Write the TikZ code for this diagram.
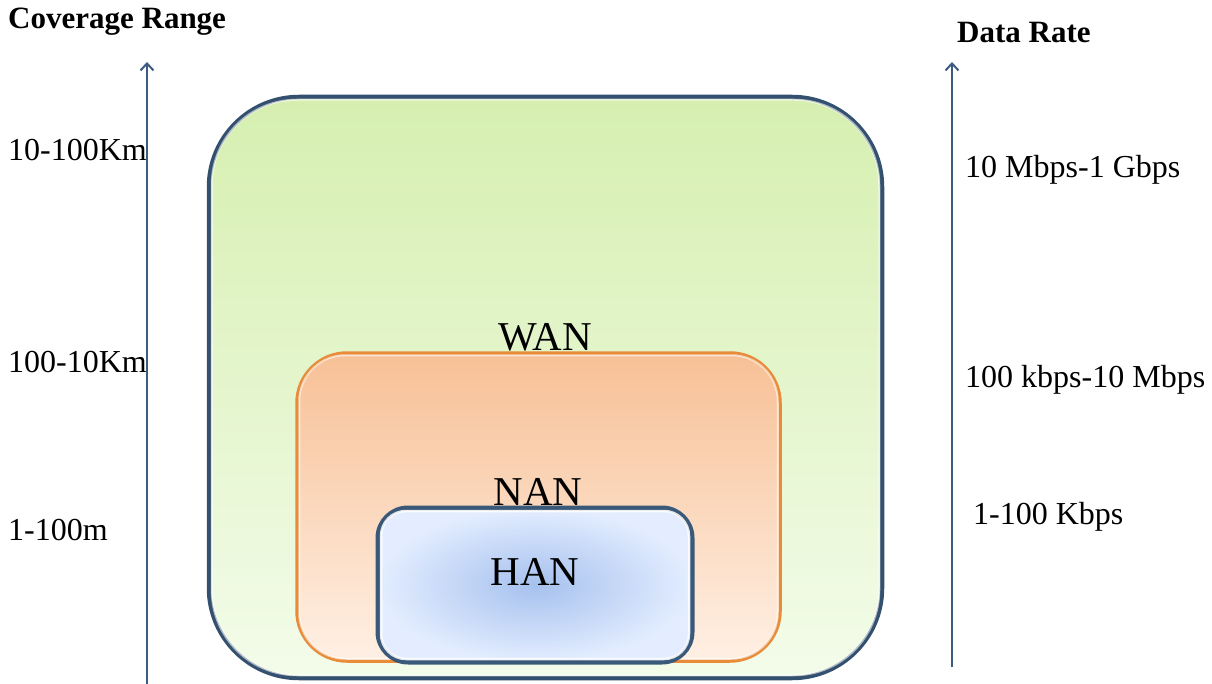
\documentclass[tikz,border=0pt]{standalone}
\usepackage{fontspec}
\setmainfont{Liberation Serif}
\usetikzlibrary{arrows.meta}
\definecolor{axiscol}{HTML}{3D5A80}
\definecolor{wanline}{HTML}{34506F}
\definecolor{wantop}{HTML}{D6EFB0}
\definecolor{wanbot}{HTML}{F3FCEA}
\definecolor{nanline}{HTML}{E88C3A}
\definecolor{nantop}{HTML}{F7C096}
\definecolor{nanbot}{HTML}{FFF0E4}
\definecolor{hanline}{HTML}{3A5878}
\definecolor{hanin}{HTML}{A6C1EE}
\definecolor{hanout}{HTML}{E3EDFF}
\tikzset{
  lbl/.style={inner sep=0pt, anchor=west, font=\fontsize{32}{36}\selectfont},
  hdr/.style={inner sep=0pt, anchor=west, font=\fontsize{31}{36}\selectfont\bfseries},
  netname/.style={inner sep=0pt, font=\fontsize{41}{46}\selectfont},
  axis/.style={draw=axiscol, line width=2.5pt, -{Straight Barb[length=7pt,width=13pt,line width=2pt]}},
  netbox/.style={rectangle, inner sep=0pt, anchor=center},
  rim/.style={white, line width=2pt},
}
\begin{document}
\begin{tikzpicture}[x=1pt,y=-1pt]
\useasboundingbox (0,0) rectangle (1212,684);
% axes
\coordinate (la0) at (147,686);
\coordinate (la1) at (147,62);
\coordinate (ra0) at (952,667);
\coordinate (ra1) at (952,62);
\draw[axis] (la0) -- (la1);
\draw[axis] (ra0) -- (ra1);
% boxes
\node[netbox, draw=wanline, line width=4.5pt, rounded corners=90pt,
  top color=wantop, bottom color=wanbot, middle color=wantop!50!wanbot,
  minimum width=673pt, minimum height=581pt] (wan) at (545.5,387.5) {};
\draw[rim, opacity=0.6, rounded corners=85pt]
  ([shift={(5,5)}]wan.north west) rectangle ([shift={(-5,-5)}]wan.south east);
\node[netbox, draw=nanline, line width=3.5pt, rounded corners=50pt,
  top color=nantop, bottom color=nanbot,
  minimum width=483pt, minimum height=308pt] (nan) at (538.5,507) {};
\draw[rim, opacity=0.6, rounded corners=46pt]
  ([shift={(4,4)}]nan.north west) rectangle ([shift={(-4,-4)}]nan.south east);
\node[netbox, draw=hanline, line width=5pt, rounded corners=30pt,
  inner color=hanin, outer color=hanout,
  minimum width=314pt, minimum height=154pt] (han) at (535,585) {};
\draw[rim, opacity=0.85, line width=2.5pt, rounded corners=25pt]
  ([shift={(5.5,5.5)}]han.north west) rectangle ([shift={(-5.5,-5.5)}]han.south east);
% network names
\node[netname] (wanlbl) at (545,337) {WAN};
\node[netname] (nanlbl) at (538,492) {NAN};
\node[netname] (hanlbl) at (535,572) {HAN};
% headers
\node[hdr] (cov) at (8,22) {Coverage Range};
\node[hdr] (dr) at (957,33) {Data Rate};
% left labels
\node[lbl] (c1) at (8,150) {10-100Km};
\node[lbl] (c2) at (8,362) {100-10Km};
\node[lbl] (c3) at (8,530) {1-100m};
% right labels
\node[lbl] (d1) at (965,170) {10 Mbps-1 Gbps};
\node[lbl] (d2) at (965,380) {100 kbps-10 Mbps};
\node[lbl] (d3) at (973,517) {1-100 Kbps};
\end{tikzpicture}
\end{document}
